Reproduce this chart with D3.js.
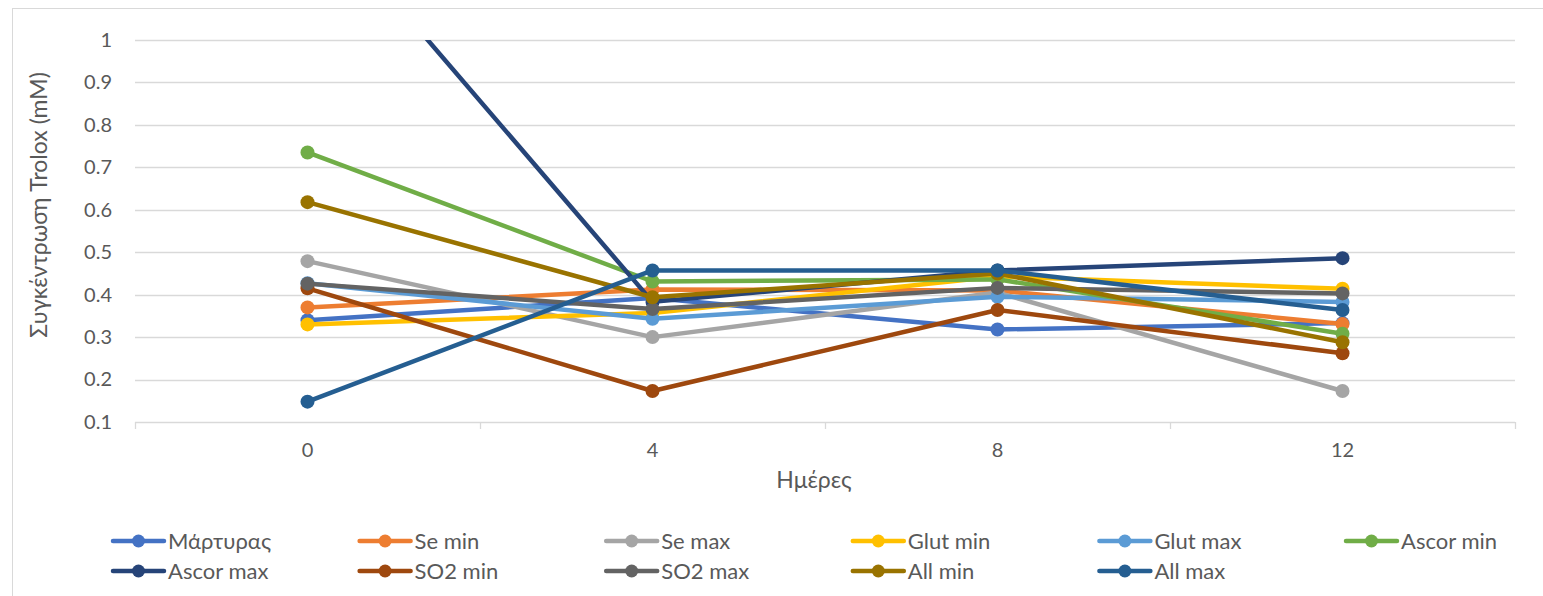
<!DOCTYPE html>
<html>
<head>
<meta charset="utf-8">
<script src="https://cdn.jsdelivr.net/npm/d3@7"></script>
<style>
  html, body { margin: 0; padding: 0; background: #fff; }
  svg { display: block; }
  text { font-family: "Lato", "Open Sans", sans-serif; fill: #595959; }
</style>
</head>
<body>
<svg id="chart" width="1543" height="596"></svg>
<script>
// Days of sampling
const days = ["0", "4", "8", "12"];

// Trolox-equivalent concentration (mM) per treatment
const martyras = [0.340, 0.392, 0.318, 0.333];
const seMin    = [0.370, 0.412, 0.410, 0.331];
const seMax    = [0.479, 0.300, 0.405, 0.173];
const glutMin  = [0.330, 0.357, 0.443, 0.414];
const glutMax  = [0.427, 0.343, 0.395, 0.383];
const ascorMin = [0.735, 0.431, 0.436, 0.308];
const ascorMax = [1.330, 0.383, 0.457, 0.486];
const so2Min   = [0.415, 0.173, 0.364, 0.262];
const so2Max   = [0.426, 0.366, 0.416, 0.403];
const allMin   = [0.618, 0.394, 0.450, 0.288];
const allMax   = [0.148, 0.457, 0.457, 0.364];

const seriesNames  = ["Μάρτυρας", "Se min", "Se max", "Glut min", "Glut max", "Ascor min",
                      "Ascor max", "SO2 min", "SO2 max", "All min", "All max"];
const seriesValues = [martyras, seMin, seMax, glutMin, glutMax, ascorMin,
                      ascorMax, so2Min, so2Max, allMin, allMax];
const seriesColors = ["#4472C4", "#ED7D31", "#A5A5A5", "#FFC000", "#5B9BD5", "#70AD47",
                      "#264478", "#9E480E", "#636363", "#997300", "#255E91"];

const yTicks = [0.1, 0.2, 0.3, 0.4, 0.5, 0.6, 0.7, 0.8, 0.9, 1];

const svg = d3.select("#chart");
const plot = { left: 135, right: 1515, top: 40, bottom: 422 };
const FONT = "Lato, 'Open Sans', sans-serif";

// Outer chart frame
svg.append("rect")
  .attr("x", 12.5).attr("y", 8.5)
  .attr("width", 1540).attr("height", 600)
  .attr("fill", "none").attr("stroke", "#d9d9d9").attr("stroke-width", 1);

const x = d3.scaleBand().domain(days).range([plot.left, plot.right]).padding(0);
const y = d3.scaleLinear().domain([0.1, 1]).range([plot.bottom, plot.top]);
const cx = d => x(d) + x.bandwidth() / 2;

// Horizontal gridlines
svg.append("g")
  .selectAll("line")
  .data(yTicks.filter(t => t > 0.1))
  .join("line")
  .attr("x1", plot.left).attr("x2", plot.right)
  .attr("y1", d => Math.round(y(d)) + 0.5).attr("y2", d => Math.round(y(d)) + 0.5)
  .attr("stroke", "#d9d9d9").attr("stroke-width", 1.3);

// Y axis labels
const yAxis = d3.axisLeft(y).tickValues(yTicks).tickSize(0).tickPadding(0)
  .tickFormat(d => d === 1 ? "1" : d3.format(".1f")(d));
svg.append("g")
  .attr("transform", `translate(${plot.left - 23},0)`)
  .call(yAxis)
  .call(g => g.select(".domain").remove())
  .call(g => g.selectAll("text").attr("font-size", 20).attr("fill", "#595959")
    .attr("font-family", FONT));

// X axis: baseline, tick marks between categories, labels
const xAxis = d3.axisBottom(x).tickSize(0).tickPadding(21);
const gx = svg.append("g")
  .attr("transform", `translate(0,${plot.bottom})`)
  .call(xAxis);
gx.select(".domain").attr("stroke", "#d9d9d9").attr("stroke-width", 1.3)
  .attr("d", `M${plot.left},0.5H${plot.right}`);
gx.selectAll("text").attr("font-size", 20).attr("fill", "#595959")
  .attr("font-family", FONT);
const bounds = days.map(d => x(d)).concat([plot.right]);
svg.append("g").selectAll("line")
  .data(bounds)
  .join("line")
  .attr("x1", d => d + 0.5).attr("x2", d => d + 0.5)
  .attr("y1", plot.bottom).attr("y2", plot.bottom + 7)
  .attr("stroke", "#d9d9d9").attr("stroke-width", 1.3);

// Axis titles
svg.append("text")
  .attr("x", (plot.left + plot.right) / 2 - 11).attr("y", 488)
  .attr("text-anchor", "middle").attr("font-size", 23)
  .text("Ημέρες");
svg.append("text")
  .attr("transform", `translate(47,${(plot.top + plot.bottom) / 2 - 26}) rotate(-90)`)
  .attr("text-anchor", "middle").attr("font-size", 23)
  .text("Συγκέντρωση Trolox (mM)");

// Plot-area clip so out-of-range values are cut at the top edge
svg.append("clipPath").attr("id", "plotClip")
  .append("rect")
  .attr("x", plot.left - 20).attr("y", plot.top)
  .attr("width", plot.right - plot.left + 40).attr("height", plot.bottom - plot.top + 20);

const line = d3.line().x((d, i) => cx(days[i])).y(d => y(d));
const series = svg.append("g").attr("clip-path", "url(#plotClip)");

seriesValues.forEach((vals, si) => {
  const g = series.append("g");
  g.append("path")
    .datum(vals)
    .attr("d", line)
    .attr("fill", "none")
    .attr("stroke", seriesColors[si])
    .attr("stroke-width", 4.5)
    .attr("stroke-linejoin", "round")
    .attr("stroke-linecap", "round");
  g.selectAll("circle")
    .data(vals.map((v, i) => ({ v, day: days[i] })).filter(d => d.v <= 1))
    .join("circle")
    .attr("cx", d => cx(d.day))
    .attr("cy", d => y(d.v))
    .attr("r", 7)
    .attr("fill", seriesColors[si]);
});

// Legend: two rows, six columns
const legendCols = 6, colW = 246.6, legendX0 = 111, rowY = [541, 571];
const legend = svg.append("g");
seriesNames.forEach((name, i) => {
  const col = i % legendCols, row = Math.floor(i / legendCols);
  const lx = legendX0 + col * colW, ly = rowY[row];
  const item = legend.append("g").attr("transform", `translate(${lx},${ly})`);
  item.append("line")
    .attr("x1", 2).attr("x2", 53).attr("y1", 0).attr("y2", 0)
    .attr("stroke", seriesColors[i]).attr("stroke-width", 4.5)
    .attr("stroke-linecap", "round");
  item.append("circle").attr("cx", 27.5).attr("cy", 0).attr("r", 6.5)
    .attr("fill", seriesColors[i]);
  item.append("text")
    .attr("x", 57).attr("y", 0).attr("dy", "0.35em")
    .attr("font-size", 22)
    .text(name);
});
</script>
</body>
</html>
